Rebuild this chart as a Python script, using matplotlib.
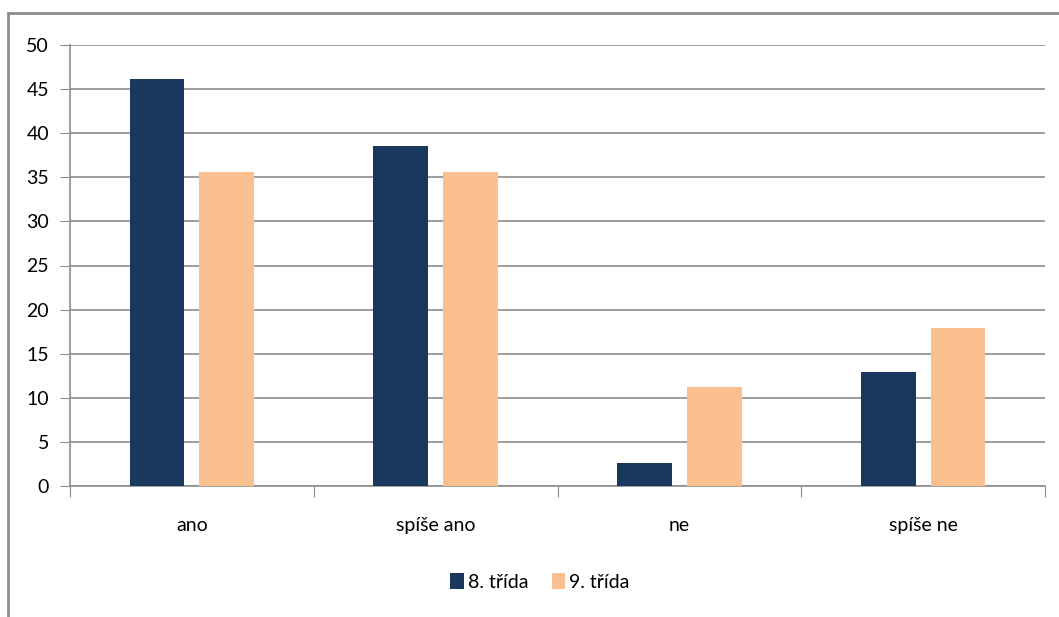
import numpy as np
import matplotlib
matplotlib.use("Agg")
import matplotlib.pyplot as plt
from matplotlib.patches import Rectangle

categories = ["ano", "spíše ano", "ne", "spíše ne"]
series_names = ["8. třída", "9. třída"]
vals_8 = [46.2, 38.5, 2.6, 12.9]
vals_9 = [35.6, 35.6, 11.2, 17.9]
colors = ["#1A375E", "#FAC090"]

plt.rcParams['font.family'] = ['Lato', 'DejaVu Sans']

fig = plt.figure(figsize=(10.59, 6.17), dpi=100)
# outer chart frame (cut off right/bottom like the screenshot)
fig.patches.append(Rectangle((8 / 1059, -0.05), 1.1, 1 - 13 / 617 + 0.05,
                             transform=fig.transFigure, fill=False,
                             edgecolor="#8c8c8c", lw=2))

ax = fig.add_axes([70 / 1059, 1 - 486 / 617, (1045 - 70) / 1059, (486 - 45) / 617])

x = np.arange(len(categories))
w = 0.225
off = 0.143
ax.bar(x - off, vals_8, w, color=colors[0], label=series_names[0], zorder=3)
ax.bar(x + off, vals_9, w, color=colors[1], label=series_names[1], zorder=3)

ax.set_xlim(-0.5, len(categories) - 0.5)
ax.set_ylim(0, 50)
ax.set_yticks(np.arange(0, 51, 5))
ax.yaxis.grid(True, color="#8c8c8c", lw=1.2, zorder=0)

ax.set_xticks(np.arange(-0.5, len(categories), 1))
ax.set_xticklabels([])
ax.set_xticks(x, minor=True)
ax.set_xticklabels(categories, minor=True, fontsize=14)
ax.tick_params(axis="x", which="major", length=8, color="#8c8c8c", direction="out")
ax.tick_params(axis="x", which="minor", length=0, pad=22)
ax.tick_params(axis="y", length=7, color="#8c8c8c", labelsize=14, pad=8)

for s in ["top", "right"]:
    ax.spines[s].set_visible(False)
for s in ["left", "bottom"]:
    ax.spines[s].set_color("#8c8c8c")
    ax.spines[s].set_linewidth(1.2)

fig.legend(loc="center", bbox_to_anchor=(540 / 1059, 1 - 582 / 617), ncol=2,
           frameon=False, fontsize=14, handlelength=0.7, handleheight=0.9,
           handletextpad=0.2, columnspacing=1.2)

fig.savefig("out.png", dpi=100)
